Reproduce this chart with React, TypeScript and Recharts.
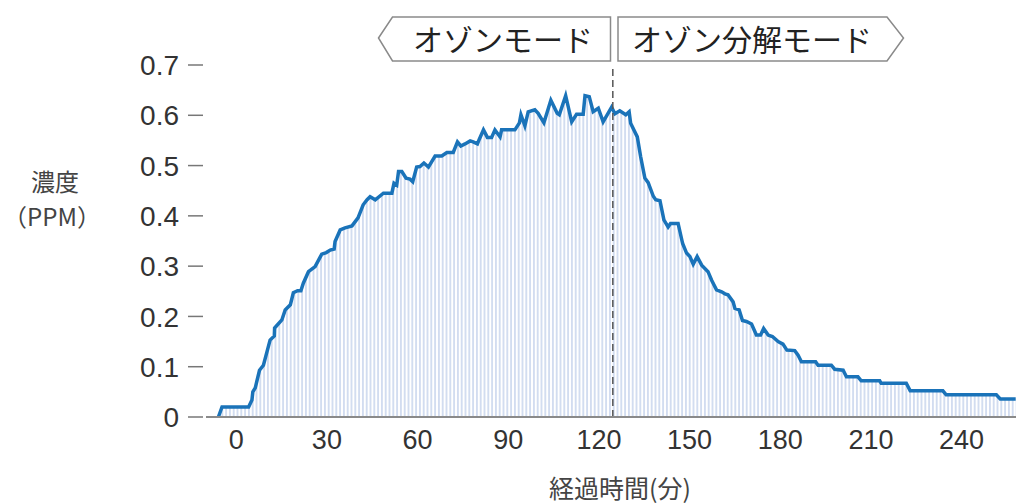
import React from 'react'
import { ComposedChart, Area, XAxis, YAxis, ReferenceLine } from 'recharts'

// elapsed minutes at each vertex of the trace
const minutes = [
  -5.9, -4.7, 4.1, 5.2, 5.5, 6.3, 7.7, 9.0, 11.2, 12.6, 12.7, 15.1, 16.2, 17.9, 18.9, 20.3,
  21.4, 22.2, 23.9, 26.1, 28.3, 29.8, 31.1, 32.4, 32.7, 34.4, 36.0, 38.3, 40.3, 42.0, 43.3,
  44.3, 46.0, 48.7, 51.5, 52.2, 53.1, 53.7, 54.8, 56.2, 57.5, 58.4, 59.7, 60.8, 62.1, 63.6,
  65.8, 68.0, 69.7, 71.8, 73.2, 74.3, 75.7, 77.4, 78.4, 79.8, 80.4, 81.8, 83.1, 84.5, 85.6,
  87.3, 87.8, 92.2, 93.7, 94.2, 95.5, 96.6, 98.8, 99.9, 101.8, 104.1, 106.2, 106.9, 109.0,
  111.0, 112.6, 114.8, 115.4, 116.8, 118.1, 119.8, 121.4, 124.2, 125.3, 126.9, 128.9, 130.0,
  130.5, 132.7, 133.8, 135.2, 136.3, 138.0, 138.8, 140.2, 141.5, 142.9, 143.7, 146.2, 147.7,
  149.0, 150.1, 151.2, 152.5, 154.0, 156.1, 157.3, 158.9, 160.6, 161.7, 162.7, 164.4, 165.0,
  166.4, 167.5, 168.8, 170.5, 172.1, 173.5, 174.5, 176.0, 177.4, 179.3, 180.9, 182.2, 184.8,
  185.9, 187.0, 191.7, 192.5, 196.9, 198.0, 200.8, 201.9, 205.7, 206.8, 212.9, 213.4, 221.7,
  223.0, 233.8, 234.9, 251.5, 252.8, 257.9,
]

// ozone concentration (ppm)
const ppm = [
  0, 0.02, 0.02, 0.034, 0.05, 0.058, 0.093, 0.103, 0.153, 0.161, 0.177, 0.193, 0.213, 0.223,
  0.247, 0.251, 0.251, 0.266, 0.289, 0.299, 0.324, 0.327, 0.332, 0.334, 0.349, 0.372, 0.376,
  0.38, 0.396, 0.422, 0.432, 0.438, 0.432, 0.445, 0.445, 0.465, 0.461, 0.488, 0.488, 0.475,
  0.473, 0.468, 0.497, 0.498, 0.505, 0.497, 0.519, 0.519, 0.526, 0.526, 0.547, 0.539, 0.543,
  0.549, 0.547, 0.543, 0.552, 0.571, 0.556, 0.556, 0.571, 0.557, 0.571, 0.571, 0.585, 0.601,
  0.579, 0.607, 0.611, 0.604, 0.585, 0.63, 0.604, 0.601, 0.639, 0.587, 0.602, 0.602, 0.639,
  0.637, 0.607, 0.614, 0.587, 0.616, 0.603, 0.609, 0.601, 0.607, 0.584, 0.557, 0.518, 0.475,
  0.466, 0.439, 0.432, 0.43, 0.392, 0.378, 0.385, 0.385, 0.345, 0.326, 0.319, 0.304, 0.319,
  0.302, 0.289, 0.272, 0.253, 0.249, 0.245, 0.243, 0.229, 0.216, 0.213, 0.192, 0.19, 0.185,
  0.163, 0.163, 0.176, 0.163, 0.16, 0.15, 0.145, 0.133, 0.132, 0.123, 0.11, 0.11, 0.103,
  0.103, 0.095, 0.093, 0.08, 0.08, 0.072, 0.072, 0.067, 0.067, 0.052, 0.052, 0.044, 0.044,
  0.036, 0.036,
]

const xTicks = [0, 30, 60, 90, 120, 150, 180, 210, 240]
const yTicks = [0, 0.1, 0.2, 0.3, 0.4, 0.5, 0.6, 0.7]
const modeLabels = ['オゾンモード', 'オゾン分解モード']
const modeSwitchMinute = 124.6

const data = minutes.map((m, i) => ({ m, v: ppm[i] }))

const numFont = '"Liberation Sans", Arial, sans-serif'
const jpFont = '"Noto Sans CJK JP", "Noto Sans", sans-serif'

const YTick = (props: any) => {
  const { x, y, payload } = props
  const label = payload.value === 0 ? '0' : payload.value.toFixed(1)
  return (
    <g>
      <line x1={x - 18} x2={x - 3} y1={y} y2={y} stroke="#777" strokeWidth={1.5} />
      <text x={x - 27} y={y} dy="0.36em" textAnchor="end" fill="#333" fontSize={28} fontFamily={numFont}>
        {label}
      </text>
    </g>
  )
}

export default function App() {
  return (
    <div style={{ position: 'absolute', left: 0, top: 0, width: 1016, height: 504, background: '#fff' }}>
      <ComposedChart width={1016} height={504} data={data} margin={{ top: 65, right: 0, bottom: 0, left: 0 }}>
        <defs>
          <pattern id="hatch" patternUnits="userSpaceOnUse" width={3.8} height={8}>
            <line x1={1.9} y1={0} x2={1.9} y2={8} stroke="#a9bde3" strokeWidth={1} />
          </pattern>
        </defs>
        <XAxis
          dataKey="m"
          type="number"
          domain={[-10, 258]}
          ticks={xTicks}
          allowDataOverflow
          height={87}
          axisLine={{ stroke: '#8a8a8a', strokeWidth: 2 }}
          tickLine={false}
          tickSize={0}
          tickMargin={13}
          tick={{ fill: '#333', fontSize: 27, fontFamily: numFont }}
        />
        <YAxis
          type="number"
          domain={[0, 0.7]}
          ticks={yTicks}
          width={206}
          axisLine={false}
          tickLine={false}
          tickSize={0}
          tickMargin={0}
          tick={<YTick />}
        />
        <Area
          type="linear"
          dataKey="v"
          stroke="#1a73b9"
          strokeWidth={3.5}
          fill="url(#hatch)"
          fillOpacity={1}
          isAnimationActive={false}
          dot={false}
          activeDot={false}
        />
        <ReferenceLine x={modeSwitchMinute} stroke="#555" strokeWidth={1.5} strokeDasharray="7 4" />
      </ComposedChart>
      <svg width={1016} height={504} style={{ position: 'absolute', left: 0, top: 0, pointerEvents: 'none' }}>
        <polygon points="378.5,38 392.5,17 610.5,17 610.5,61 392.5,61" fill="#fff" stroke="#8a8a8a" strokeWidth={1.5} />
        <polygon points="618,17 887,17 903.5,38 887,61 618,61" fill="#fff" stroke="#8a8a8a" strokeWidth={1.5} />
        <text x={503} y={40} dy="0.36em" textAnchor="middle" fontSize={30} fill="#222" fontFamily={jpFont}>
          {modeLabels[0]}
        </text>
        <text x={752} y={40} dy="0.36em" textAnchor="middle" fontSize={30} fill="#222" fontFamily={jpFont}>
          {modeLabels[1]}
        </text>
        <text x={55} y={182} dy="0.36em" textAnchor="middle" fontSize={24} fill="#444" fontFamily={jpFont}>
          濃度
        </text>
        <text x={52} y={217} dy="0.36em" textAnchor="middle" fontSize={24} fill="#444" fontFamily={jpFont}>
          （PPM）
        </text>
        <text x={620} y={489} dy="0.36em" textAnchor="middle" fontSize={25} fill="#444" fontFamily={jpFont}>
          経過時間(分)
        </text>
      </svg>
    </div>
  )
}
